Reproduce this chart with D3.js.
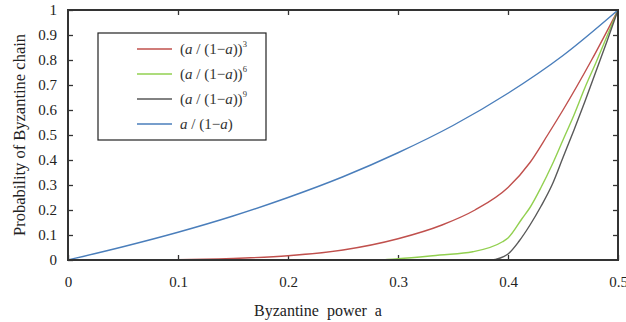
<!DOCTYPE html>
<html>
<head>
<meta charset="utf-8">
<script src="https://cdn.jsdelivr.net/npm/d3@7"></script>
<style>
  body { margin: 0; background: #fff; }
  svg { display: block; font-family: "Liberation Serif", "Times New Roman", serif; }
</style>
</head>
<body>
<div id="chart"></div>
<script>
// Probability of Byzantine chain vs Byzantine power
const width = 626, height = 322;
const margin = {top: 10, right: 8, bottom: 62, left: 68};

const ticksX = [0, 0.1, 0.2, 0.3, 0.4, 0.5];
const ticksY = [0, 0.1, 0.2, 0.3, 0.4, 0.5, 0.6, 0.7, 0.8, 0.9, 1];

// values: [power a, probability]
const cubed = [[0, 0], [0.05, 0.0002], [0.1, 0.001], [0.15, 0.006], [0.2, 0.017], [0.25, 0.04],
  [0.3, 0.085], [0.34, 0.14], [0.37, 0.2], [0.4, 0.29], [0.42, 0.39], [0.436, 0.5],
  [0.45, 0.6], [0.476, 0.8], [0.5, 1]];
const sixth = [[0, 0], [0.28, 0], [0.3, 0.005], [0.338, 0.02], [0.368, 0.033], [0.395, 0.073],
  [0.4, 0.088], [0.413, 0.167], [0.42, 0.21], [0.43, 0.29], [0.44, 0.38], [0.45, 0.48],
  [0.46, 0.58], [0.47, 0.69], [0.48, 0.79], [0.49, 0.895], [0.5, 1]];
const ninth = [[0, 0], [0.385, 0], [0.393, 0.008], [0.4, 0.024], [0.41, 0.075], [0.42, 0.14],
  [0.43, 0.215], [0.44, 0.3], [0.45, 0.41], [0.46, 0.52], [0.47, 0.635], [0.48, 0.755],
  [0.49, 0.875], [0.5, 1]];
const linear = [[0, 0], [0.05, 0.053], [0.1, 0.111], [0.15, 0.176], [0.2, 0.25], [0.25, 0.333],
  [0.3, 0.429], [0.35, 0.538], [0.4, 0.667], [0.45, 0.818], [0.5, 1]];

const seriesData = [cubed, sixth, ninth, linear];
const seriesExp = ["3", "6", "9", null];
const colors = ["#c0504d", "#92d050", "#595959", "#4a7ebb"];

const svg = d3.select("#chart").append("svg")
  .attr("width", width).attr("height", height);

const x = d3.scaleLinear().domain([0, 0.5]).range([margin.left, width - margin.right]);
const y = d3.scaleLinear().domain([0, 1]).range([height - margin.bottom, margin.top]);
const fmt = d => d === 0 ? "0" : d3.format("~g")(d);

const axisColor = "#333";

function styleAxis(g) {
  g.attr("font-family", null);
  g.select(".domain").remove();
  g.selectAll(".tick line").attr("stroke", axisColor).attr("stroke-width", 1.3);
  g.selectAll(".tick text").attr("fill", "#222").attr("font-size", 15)
    .style("font-family", "'Liberation Serif', 'Times New Roman', serif");
}

svg.append("g").attr("transform", `translate(0,${y(0)})`)
  .call(d3.axisBottom(x).tickValues(ticksX).tickFormat(fmt).tickSize(-5).tickSizeOuter(0).tickPadding(16))
  .call(styleAxis);
svg.append("g").attr("transform", `translate(0,${y(1)})`)
  .call(d3.axisTop(x).tickValues(ticksX.slice(1, -1)).tickFormat("").tickSize(-5).tickSizeOuter(0))
  .call(styleAxis);
svg.append("g").attr("transform", `translate(${x(0)},0)`)
  .call(d3.axisLeft(y).tickValues(ticksY).tickFormat(fmt).tickSize(-5).tickSizeOuter(0).tickPadding(11))
  .call(styleAxis);
svg.append("g").attr("transform", `translate(${x(0.5)},0)`)
  .call(d3.axisRight(y).tickValues(ticksY.slice(1, -1)).tickFormat("").tickSize(-5).tickSizeOuter(0))
  .call(styleAxis);

// curves
const line = d3.line().x(d => x(d[0])).y(d => y(d[1])).curve(d3.curveMonotoneX);
svg.append("g").selectAll("path").data(seriesData).join("path")
  .attr("d", line)
  .attr("fill", "none")
  .attr("stroke", (d, i) => colors[i])
  .attr("stroke-width", 1.4);

// frame
svg.append("rect")
  .attr("x", x(0)).attr("y", y(1))
  .attr("width", x(0.5) - x(0)).attr("height", y(0) - y(1))
  .attr("fill", "none").attr("stroke", axisColor).attr("stroke-width", 2);

// axis titles
svg.append("text")
  .attr("x", 318).attr("y", 316)
  .attr("text-anchor", "middle").attr("font-size", 16).attr("fill", "#222")
  .attr("xml:space", "preserve")
  .text("Byzantine  power  a");
svg.append("text")
  .attr("transform", `translate(25,${(y(0) + y(1)) / 2}) rotate(-90)`)
  .attr("text-anchor", "middle").attr("font-size", 16.5).attr("fill", "#222")
  .text("Probability of Byzantine chain");

// legend
const legend = svg.append("g");
legend.append("rect")
  .attr("x", 98).attr("y", 33).attr("width", 168).attr("height", 107)
  .attr("fill", "#fff").attr("stroke", "#222").attr("stroke-width", 1.2);

seriesData.forEach((d, i) => {
  const ly = 49 + i * 25;
  legend.append("line")
    .attr("x1", 137).attr("x2", 172).attr("y1", ly).attr("y2", ly)
    .attr("stroke", colors[i]).attr("stroke-width", 1.4);
  const t = legend.append("text")
    .attr("x", 180).attr("y", ly + 5)
    .attr("font-size", 15).attr("fill", "#333")
    .style("font-family", "'Liberation Serif', 'Times New Roman', serif");
  if (seriesExp[i]) {
    t.append("tspan").text("(");
    t.append("tspan").attr("font-style", "italic").text("a");
    t.append("tspan").text(" / (1\u2212");
    t.append("tspan").attr("font-style", "italic").text("a");
    t.append("tspan").text("))");
    t.append("tspan").attr("font-size", 8.5).attr("dy", -7).text(seriesExp[i]);
  } else {
    t.append("tspan").attr("font-style", "italic").text("a");
    t.append("tspan").text(" / (1\u2212");
    t.append("tspan").attr("font-style", "italic").text("a");
    t.append("tspan").text(")");
  }
});
</script>
</body>
</html>
